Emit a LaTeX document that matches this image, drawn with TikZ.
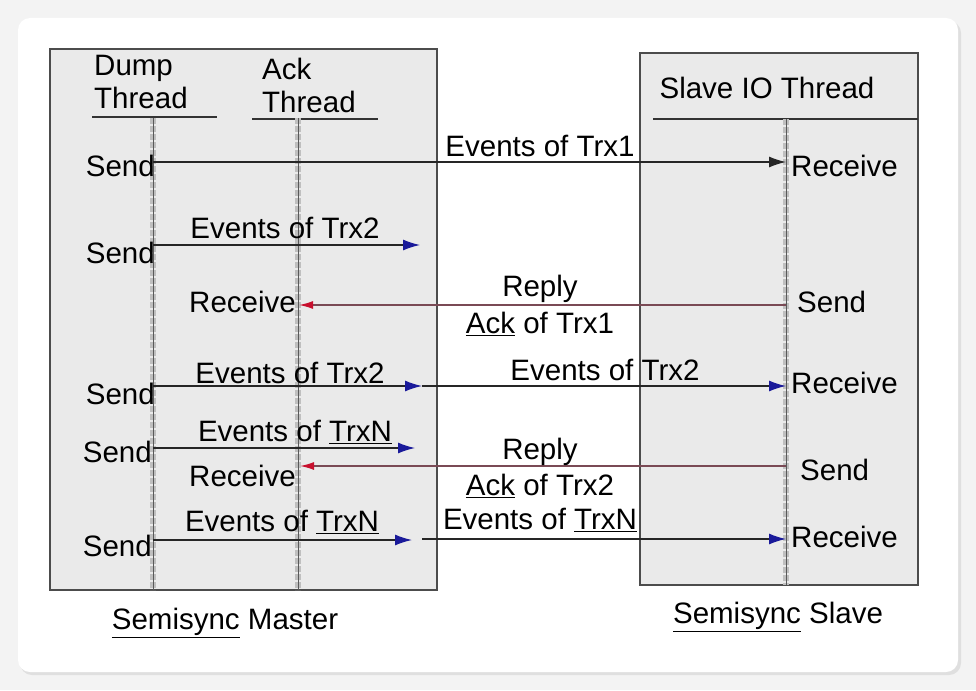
\documentclass[tikz,border=0pt]{standalone}
\usepackage{fontspec}
\setmainfont{Liberation Sans}
\usetikzlibrary{positioning, calc, arrows.meta}
\definecolor{boxfill}{HTML}{EAEAEA}
\definecolor{pagebg}{HTML}{F3F3F3}
\definecolor{replyline}{HTML}{7A4A55}
\definecolor{tipblue}{HTML}{1A1A9A}
\definecolor{tipred}{HTML}{C8102E}
\tikzset{
  lbl/.style={font=\fontsize{29.5}{33}\selectfont, inner sep=0pt},
  lifeline/.style={draw=gray!70!black, line width=1pt},
  lifeband/.style={draw=gray!50, line width=6pt, dotted},
  msg/.style={draw=black!85, line width=1.4pt, -{Latex[length=17pt,width=11pt,color=tipblue]}},
  reply/.style={draw=replyline, line width=1.4pt, -{Latex[length=14pt,width=8pt,color=tipred]}},
  hdrline/.style={draw=black!80, line width=1.4pt}
}
\begin{document}
\begin{tikzpicture}[x=1pt,y=-1pt]
        \useasboundingbox (0,0) rectangle (976,690);
        %sfondo e cartoncino
        \fill[pagebg] (0,0) rectangle (976,690);
        \fill[gray!25,rounded corners=12pt] (20,21) rectangle (961,675);
        \fill[white,rounded corners=12pt] (18,18) rectangle (958,672);
        %riquadri master e slave
        \draw[fill=boxfill, draw=gray!60!black, line width=1.3pt] (50,49) rectangle (437,590);
        \draw[fill=boxfill, draw=gray!60!black, line width=1.3pt] (640,53) rectangle (918,585);
        %intestazioni
        \node[lbl, anchor=north west, align=left] (dump) at (94,55) {Dump\\Thread};
        \node[lbl, anchor=north west, align=left] (ack) at (262,58) {Ack\\Thread};
        \node[lbl] (slave) at (767,88) {Slave IO Thread};
        \draw[hdrline] (92,117) -- (217,117);
        \draw[hdrline] (252,119) -- (378,119);
        \draw[hdrline] (653,119) -- (918,119);
        %linee di vita
        \coordinate (dumpTop) at (153,118);
        \coordinate (dumpBot) at (153,590);
        \coordinate (ackTop) at (298,118);
        \coordinate (ackBot) at (298,590);
        \coordinate (slvTop) at (786,119);
        \coordinate (slvBot) at (786,585);
        \foreach \t/\b in {dumpTop/dumpBot, ackTop/ackBot, slvTop/slvBot}{
          \draw[lifeband] (\t) -- (\b);
          \draw[lifeline] (\t) -- (\b);
        }
        %trx1
        \coordinate (d1) at (153,162);
        \coordinate (s1) at (786,162);
        \node[lbl, anchor=east] (send1) at (155,166) {Send};
        \node[lbl, anchor=west] (recv1) at (791,166) {Receive};
        \draw[draw=black!85, line width=1.4pt, -{Latex[length=17pt,width=11pt]}] (d1) -- (s1);
        \node[lbl] (ev1) at (540,146) {Events of Trx1};
        %trx2 verso ack
        \coordinate (d2) at (153,245);
        \coordinate (e2) at (420,245);
        \node[lbl, anchor=east] (send2) at (155,253) {Send};
        \draw[msg] (d2) -- (e2);
        \node[lbl] (ev2) at (285,228) {Events of Trx2};
        %ack trx1
        \coordinate (s3) at (786,305);
        \coordinate (a3) at (299,305);
        \node[lbl, anchor=east] (recv3) at (296,302) {Receive};
        \node[lbl, anchor=west] (send3) at (797,302) {Send};
        \draw[reply] (s3) -- (a3);
        \node[lbl] (rep3) at (540,289) {Reply};
        \node[lbl] (ack3) at (540,324) {\underline{Ack} of Trx1};
        %trx2 verso slave
        \coordinate (d4) at (153,386);
        \coordinate (m4) at (422,386);
        \coordinate (s4) at (786,386);
        \node[lbl, anchor=east] (send4) at (155,394) {Send};
        \node[lbl, anchor=west] (recv4) at (791,383) {Receive};
        \draw[msg] (d4) -- (m4);
        \draw[msg] (m4) -- (s4);
        \node[lbl] (ev4a) at (290,373) {Events of Trx2};
        \node[lbl] (ev4b) at (605,370) {Events of Trx2};
        %trxN verso ack
        \coordinate (d5) at (153,448);
        \coordinate (e5) at (415,448);
        \node[lbl, anchor=east] (send5) at (152,452) {Send};
        \draw[msg] (d5) -- (e5);
        \node[lbl] (ev5) at (295,432) {Events of \underline{TrxN}};
        %ack trx2
        \coordinate (s6) at (786,466);
        \coordinate (a6) at (300,466);
        \node[lbl, anchor=east] (recv6) at (296,476) {Receive};
        \node[lbl, anchor=west] (send6) at (800,470) {Send};
        \draw[reply] (s6) -- (a6);
        \node[lbl] (rep6) at (540,452) {Reply};
        \node[lbl] (ack6) at (540,486) {\underline{Ack} of Trx2};
        %trxN verso slave
        \coordinate (d7) at (153,540);
        \coordinate (m7) at (412,540);
        \coordinate (n7) at (422,539);
        \coordinate (s7) at (786,539);
        \node[lbl, anchor=east] (send7) at (152,546) {Send};
        \node[lbl, anchor=west] (recv7) at (791,537) {Receive};
        \draw[msg] (d7) -- (m7);
        \draw[msg] (n7) -- (s7);
        \node[lbl] (ev7a) at (282,522) {Events of \underline{TrxN}};
        \node[lbl] (ev7b) at (540,520) {Events of \underline{TrxN}};
        %didascalie
        \node[lbl] (master) at (225,623) {\underline{Semisync} Master};
        \node[lbl] (slavecap) at (778,617) {\underline{Semisync} Slave};
    \end{tikzpicture}
\end{document}
